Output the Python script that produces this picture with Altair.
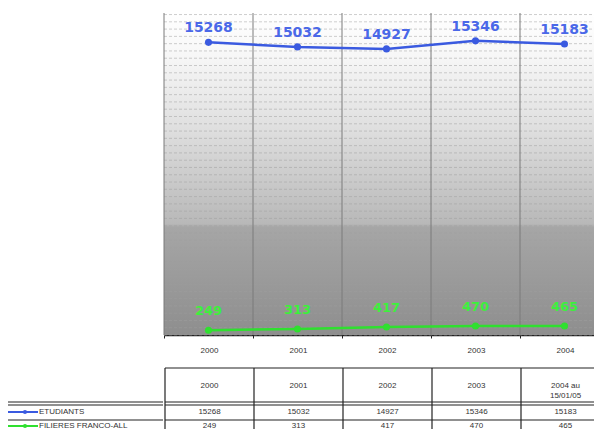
import altair as alt
import pandas as pd

# ---- data ----
years = ["2000", "2001", "2002", "2003", "2004"]
header_labels = ["2000", "2001", "2002", "2003", "2004 au\n15/01/05"]
series_names = ["ETUDIANTS", "FILIERES FRANCO-ALL"]
etudiants = [15268, 15032, 14927, 15346, 15183]
filieres = [249, 313, 417, 470, 465]

# ---- style / layout constants ----
BLUE = "#3a5ae0"
BLUE_TXT = "#4a68e8"
GREEN = "#2fe02f"
GREEN_TXT = "#3cf03c"
FONT = "Liberation Sans"
LFONT = "DejaVu Sans"
LEFT = 155          # width of the label column
W = 445             # plot width (5 bands)
H = 322             # plot height
HB = 91             # table height (visible part)
Y_MAX = 16800

df = pd.DataFrame({
    "year": years * 2,
    "value": etudiants + filieres,
    "series": [series_names[0]] * 5 + [series_names[1]] * 5,
})
df_years = pd.DataFrame({"year": years, "header": header_labels,
                         "etu": etudiants, "fil": filieres})
one = pd.DataFrame({"a": [0]})
grid_df = pd.DataFrame({"g": list(range(0, Y_MAX, 380))})

xscale = alt.Scale(domain=years, paddingInner=0, paddingOuter=0)
yscale = alt.Scale(domain=[0, Y_MAX], nice=False, zero=True)
cscale = alt.Scale(domain=series_names, range=[BLUE, GREEN])

# ---- plot ----
bg = alt.Chart(one).mark_rect(
    fill=alt.Gradient(
        gradient="linear", x1=0, y1=0, x2=0, y2=1,
        stops=[
            alt.GradientStop(offset=0, color="#ffffff"),
            alt.GradientStop(offset=0.12, color="#f8f8f8"),
            alt.GradientStop(offset=0.35, color="#e0e0e0"),
            alt.GradientStop(offset=0.55, color="#c6c6c6"),
            alt.GradientStop(offset=0.655, color="#b8b8b8"),
            alt.GradientStop(offset=0.665, color="#a6a6a6"),
            alt.GradientStop(offset=1, color="#8e8e8e"),
        ],
    )
).encode(x=alt.value(0), x2=alt.value(W), y=alt.value(0), y2=alt.value(H))

hgrid = alt.Chart(grid_df).mark_rule(
    color="#a0a0a0", strokeDash=[3, 2], strokeWidth=1, opacity=0.5
).encode(y=alt.Y("g:Q", scale=yscale, axis=None), x=alt.value(0), x2=alt.value(W))

vgrid = alt.Chart(df_years).mark_rule(color="#7a7a7a", strokeWidth=1).encode(
    x=alt.X("year:N", scale=xscale, bandPosition=0,
            axis=alt.Axis(labels=False, title=None, ticks=True, tickSize=3,
                          tickBand="extent", domainColor="#222222",
                          domainWidth=1.5, tickColor="#222222", grid=False)),
    y=alt.value(0), y2=alt.value(H),
)

lines = alt.Chart(df).mark_line(
    strokeWidth=2.5, point=alt.OverlayMarkDef(filled=True, size=50)
).encode(
    x=alt.X("year:N", scale=xscale),
    y=alt.Y("value:Q", scale=yscale, axis=None),
    color=alt.Color("series:N", scale=cscale, legend=None),
)

lab_blue = alt.Chart(df).transform_filter(
    alt.datum.series == series_names[0]
).mark_text(font=LFONT, fontSize=14, fontWeight="bold", color=BLUE_TXT, dy=-14).encode(
    x=alt.X("year:N", scale=xscale),
    y=alt.Y("value:Q", scale=yscale),
    text="value:Q",
)
lab_green = alt.Chart(df).transform_filter(
    alt.datum.series == series_names[1]
).mark_text(font=LFONT, fontSize=13, fontWeight="bold", color=GREEN_TXT, dy=-19).encode(
    x=alt.X("year:N", scale=xscale),
    y=alt.Y("value:Q", scale=yscale),
    text="value:Q",
)

plot = alt.layer(bg, hgrid, vgrid, lines, lab_blue, lab_green).properties(width=W, height=H)

blank = alt.Chart(one).mark_text(text="").encode(
    x=alt.value(0), y=alt.value(0)
).properties(width=LEFT, height=H)

# ---- table ----
Y_YEAR, Y_HTOP, Y_HDR, Y_D1, Y_D2, Y_R1, Y_L1, Y_R2 = 12, 29, 47, 63, 66, 73, 81, 87
TXT = dict(font=FONT, fontSize=8, color="#333333")

tx = alt.X("year:N", scale=xscale, axis=None)
t_year = alt.Chart(df_years).mark_text(**TXT).encode(x=tx, y=alt.value(Y_YEAR), text="year:N")
t_hdr = alt.Chart(df_years).mark_text(lineBreak="\n", **TXT).encode(
    x=tx, y=alt.value(Y_HDR), text="header:N")
t_etu = alt.Chart(df_years).mark_text(**TXT).encode(x=tx, y=alt.value(Y_R1), text="etu:Q")
t_fil = alt.Chart(df_years).mark_text(**TXT).encode(x=tx, y=alt.value(Y_R2), text="fil:Q")
t_vl = alt.Chart(df_years).mark_rule(color="#222222", strokeWidth=1.2).encode(
    x=alt.X("year:N", scale=xscale, bandPosition=0, axis=None),
    y=alt.value(Y_HTOP), y2=alt.value(HB))


def hrules(width, ys, color="#222222", sw=1.2):
    return [alt.Chart(one).mark_rule(color=color, strokeWidth=sw).encode(
        x=alt.value(0), x2=alt.value(width), y=alt.value(yv)) for yv in ys]


table = alt.layer(
    t_vl, *hrules(W, [Y_HTOP, Y_D1, Y_D2, Y_L1]), t_year, t_hdr, t_etu, t_fil
).properties(width=W, height=HB)

# label column with line-symbol keys
def key(name, color, yv):
    seg = alt.Chart(one).mark_rule(color=color, strokeWidth=2).encode(
        x=alt.value(0), x2=alt.value(30), y=alt.value(yv))
    dot = alt.Chart(one).mark_point(filled=True, size=18, color=color, opacity=1).encode(
        x=alt.value(17), y=alt.value(yv))
    txt = alt.Chart(pd.DataFrame({"n": [name]})).mark_text(
        align="left", **TXT).encode(x=alt.value(31), y=alt.value(yv), text="n:N")
    return [seg, dot, txt]


labelcol = alt.layer(
    *hrules(LEFT, [Y_D1, Y_D2, Y_L1]),
    *key(series_names[0], BLUE, Y_R1),
    *key(series_names[1], GREEN, Y_R2),
).properties(width=LEFT, height=HB)

chart = alt.vconcat(
    alt.hconcat(blank, plot, spacing=0),
    alt.hconcat(labelcol, table, spacing=0),
    spacing=0,
).properties(
    autosize=alt.AutoSizeParams(type="none"),
    padding={"top": 5, "left": 0, "right": 586, "bottom": 416},
).configure_view(stroke=None).configure_concat(spacing=0)

chart.save("out.html", embed_options={"renderer": "svg", "actions": False})
